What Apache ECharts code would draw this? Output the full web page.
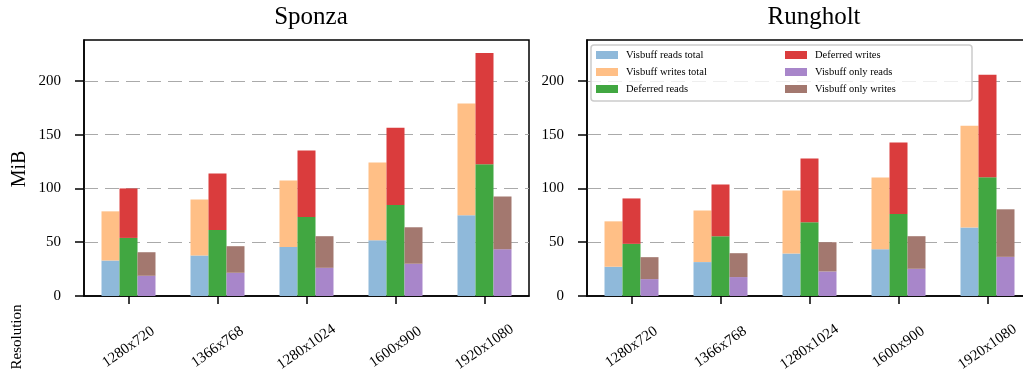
<!DOCTYPE html>
<html>
<head>
<meta charset="utf-8">
<script src="https://cdn.jsdelivr.net/npm/echarts@6/dist/echarts.min.js"></script>
<style>
html,body{margin:0;padding:0;background:#fff;}
#c{width:1023px;height:378px;}
</style>
</head>
<body>
<div id="c"></div>
<script>
const categories = ['1280x720', '1366x768', '1280x1024', '1600x900', '1920x1080'];
const panelTitles = ['Sponza', 'Rungholt'];
const seriesNames = ['Visbuff reads total', 'Visbuff writes total', 'Deferred reads', 'Deferred writes', 'Visbuff only reads', 'Visbuff only writes'];
const yTicks = [0, 50, 100, 150, 200];

// Sponza (stacked segment values, MiB)
const sponzaReadsTotal = [33.0, 37.7, 45.6, 51.9, 75.0];
const sponzaWritesTotal = [45.7, 52.1, 61.8, 72.1, 104.0];
const sponzaDeferredReads = [54.0, 61.4, 73.5, 84.6, 122.5];
const sponzaDeferredWrites = [46.0, 52.6, 61.7, 71.9, 103.4];
const sponzaOnlyReads = [18.8, 21.6, 26.2, 30.0, 43.5];
const sponzaOnlyWrites = [21.9, 24.7, 29.4, 33.9, 49.1];

// Rungholt (stacked segment values, MiB)
const rungReadsTotal = [27.2, 31.5, 39.5, 43.5, 63.6];
const rungWritesTotal = [42.2, 48.1, 58.6, 66.7, 94.7];
const rungDeferredReads = [48.5, 55.6, 68.5, 76.2, 110.5];
const rungDeferredWrites = [42.2, 48.1, 59.3, 66.4, 95.1];
const rungOnlyReads = [15.7, 17.6, 22.8, 25.3, 36.4];
const rungOnlyWrites = [20.4, 22.2, 27.2, 30.3, 44.2];

const colors = ['#8fb9da', '#ffbf86', '#41a741', '#da3c3d', '#a886ca', '#a3786f'];
const stacks = ['a', 'a', 'b', 'b', 'c', 'c'];
const FONT = '"Liberation Serif", "DejaVu Serif", serif';

const panels = [
  [sponzaReadsTotal, sponzaWritesTotal, sponzaDeferredReads, sponzaDeferredWrites, sponzaOnlyReads, sponzaOnlyWrites],
  [rungReadsTotal, rungWritesTotal, rungDeferredReads, rungDeferredWrites, rungOnlyReads, rungOnlyWrites]
];

const gridLefts = [84, 587];
const grids = gridLefts.map(l => ({
  left: l, top: 40, width: 445, height: 256,
  outerBoundsMode: 'none', containLabel: false,
  show: true, borderColor: '#000', borderWidth: 1.5, backgroundColor: 'transparent'
}));

const xAxes = gridLefts.map((l, i) => ({
  type: 'category', gridIndex: i, data: categories,
  axisLine: { show: true, lineStyle: { color: '#000', width: 1.5 } },
  axisTick: { show: true, alignWithLabel: true, length: 8, lineStyle: { color: '#000', width: 1.5 } },
  axisLabel: {
    interval: 0, rotate: 35, align: 'center', verticalAlign: 'middle', margin: 51,
    fontFamily: FONT, fontSize: 15, color: '#000'
  }
}));

const yAxes = gridLefts.map((l, i) => ({
  type: 'value', gridIndex: i, min: 0, max: 238, interval: 50,
  axisLine: { show: true, lineStyle: { color: '#000', width: 1.5 } },
  axisTick: { show: true, length: 9, lineStyle: { color: '#000', width: 1.5 } },
  axisLabel: {
    showMaxLabel: false, margin: 23,
    fontFamily: FONT, fontSize: 15, color: '#000',
    formatter: v => (yTicks.indexOf(v) >= 0 ? String(v) : '')
  },
  splitLine: { show: true, showMaxLine: false, showMinLine: false,
    lineStyle: { color: '#aaaaaa', width: 1, type: [14, 7] } }
}));

const series = [];
panels.forEach((vals, p) => {
  vals.forEach((arr, k) => {
    series.push({
      type: 'bar', name: seriesNames[k], xAxisIndex: p, yAxisIndex: p,
      stack: 'p' + p + stacks[k], data: arr, barWidth: 18, barGap: '0%',
      itemStyle: { color: colors[k] }, emphasis: { disabled: true }
    });
  });
});

const legendCommon = {
  orient: 'vertical', top: 49, padding: 0, itemWidth: 22, itemHeight: 8, itemGap: 5,
  icon: 'rect', selectedMode: false, z: 10,
  textStyle: { fontFamily: FONT, fontSize: 10.5, color: '#000', padding: [0, 0, 0, 3], lineHeight: 12 }
};

const option = {
  animation: false,
  backgroundColor: '#fff',
  title: panelTitles.map((t, i) => ({
    text: t, left: gridLefts[i] + 222, top: 0, textAlign: 'center',
    textStyle: { fontFamily: FONT, fontSize: 25, fontWeight: 'normal', color: '#000' }
  })),
  grid: grids,
  xAxis: xAxes,
  yAxis: yAxes,
  legend: [
    Object.assign({}, legendCommon, { left: 596, data: seriesNames.slice(0, 3) }),
    Object.assign({}, legendCommon, { left: 785, data: seriesNames.slice(3, 6) })
  ],
  graphic: [
    { type: 'rect', z: 6, shape: { x: 591, y: 45, width: 381, height: 56, r: 3 },
      style: { fill: 'rgba(255,255,255,0.8)', stroke: '#cccccc', lineWidth: 1.5 } },
    { type: 'text', z: 6, x: 20, y: 169, rotation: Math.PI / 2,
      style: { text: 'MiB', fontFamily: FONT, fontSize: 20, fill: '#000', align: 'center', verticalAlign: 'middle' } },
    { type: 'text', z: 6, x: 17, y: 337, rotation: Math.PI / 2,
      style: { text: 'Resolution', fontFamily: FONT, fontSize: 15, fill: '#000', align: 'center', verticalAlign: 'middle' } }
  ],
  series: series
};

const chart = echarts.init(document.getElementById('c'), null, { renderer: 'canvas' });
chart.setOption(option);
</script>
</body>
</html>
